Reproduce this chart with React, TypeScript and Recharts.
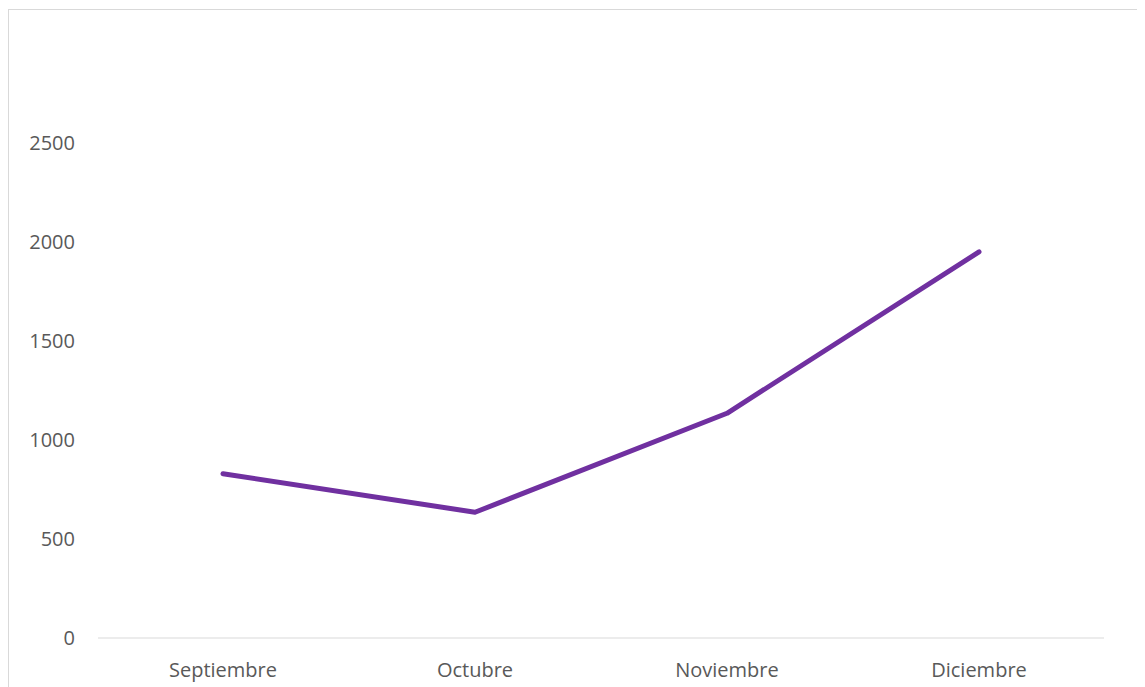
import { LineChart, Line, XAxis, YAxis } from "recharts"

const months = ["Septiembre", "Octubre", "Noviembre", "Diciembre"]
const values = [830, 635, 1135, 1950]
const yTicks = [0, 500, 1000, 1500, 2000, 2500]

const data = months.map((month, i) => ({ month, value: values[i] }))

const tickStyle = { fill: "#595959", fontSize: 20, fontFamily: "'Open Sans', sans-serif" }

export default function App() {
    return (
        <div style={{ paddingTop: 1 }}>
            {/* the chart frame runs past the window edge, as in the original */}
            <style>{"html, body { overflow: hidden; }"}</style>
            <div
                style={{
                    width: 1150,
                    height: 690,
                    boxSizing: "border-box",
                    border: "1px solid #d9d9d9",
                    background: "#fff",
                }}
            >
                <LineChart width={1148} height={688} data={data} margin={{ top: 133, right: 53, bottom: 20, left: 0 }}>
                    <XAxis
                        dataKey="month"
                        height={40}
                        padding={{ left: 125, right: 125 }}
                        stroke="#d9d9d9"
                        tickLine={false}
                        tickMargin={19}
                        tick={tickStyle}
                    />
                    <YAxis
                        width={89}
                        domain={[0, 2500]}
                        ticks={yTicks}
                        axisLine={false}
                        tickLine={false}
                        tickMargin={17}
                        tick={tickStyle}
                    />
                    <Line
                        type="linear"
                        dataKey="value"
                        stroke="#7030a0"
                        strokeWidth={5}
                        strokeLinecap="round"
                        strokeLinejoin="round"
                        dot={false}
                        activeDot={false}
                        isAnimationActive={false}
                    />
                </LineChart>
            </div>
        </div>
    )
}
